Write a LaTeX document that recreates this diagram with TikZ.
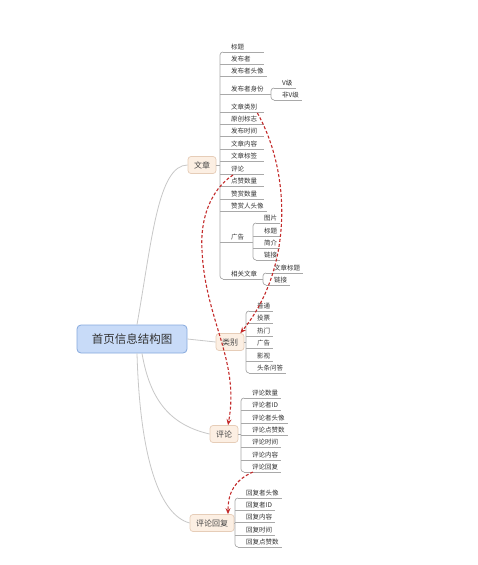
\documentclass[tikz,border=0pt]{standalone}
\usepackage{fontspec}
\setmainfont{Noto Sans CJK SC}
\usetikzlibrary{arrows.meta,calc}
\definecolor{rootfill}{HTML}{C8DBF8}
\definecolor{rootdraw}{HTML}{86A9DD}
\definecolor{brfill}{HTML}{FCEFE3}
\definecolor{brdraw}{HTML}{E6CDB8}
\definecolor{llinec}{HTML}{A9A9A9}
\definecolor{rlinec}{HTML}{C8C8C8}
\definecolor{relred}{HTML}{C42B2B}
\definecolor{txt}{HTML}{333333}
\newlength\lfw
\newcommand\mw[2]{\settowidth\lfw{#2}\ifdim\lfw<#1\relax\makebox[#1][l]{#2}\else#2\fi}
% leaf with underline starting at vertical line
\newcommand\leaf[5][0pt]{\node[leafnode] (#2) at (#3+11,#4-3) {\mw{#1}{#5}};
  \draw[lline] (#3,#4) -- ([xshift=3pt,yshift=-3pt]#2.base east);}
% end leaf (first/last of a group): underline starts after rounded corner
\newcommand\leafe[5][0pt]{\node[leafnode] (#2) at (#3+11,#4-3) {\mw{#1}{#5}};
  \draw[lline] (#3+3,#4) -- ([xshift=3pt,yshift=-3pt]#2.base east);}
\begin{document}
\begin{tikzpicture}[x=1pt,y=-1pt,
  rootbox/.style={draw=rootdraw,fill=rootfill,line width=0.8pt,rounded corners=4pt,
    minimum width=110pt,minimum height=28pt,text=txt,font=\fontsize{11.5}{13}\selectfont},
  brbox/.style={draw=brdraw,fill=brfill,line width=0.7pt,rounded corners=3pt,
    inner xsep=6pt,minimum height=17pt,text=txt!90,font=\fontsize{8}{9.5}\selectfont},
  leafnode/.style={anchor=base west,inner sep=0pt,text=txt,font=\fontsize{6.5}{7}\selectfont},
  lline/.style={draw=llinec,line width=0.7pt},
  rline/.style={draw=rlinec,line width=0.8pt},
  rel/.style={draw=relred,line width=1.1pt,dash pattern=on 3pt off 2pt,
    -{Stealth[length=6pt,width=5pt]}}]
\useasboundingbox[fill=white] (0,0) rectangle (477,565);

% main nodes
\node[rootbox] (root) at (132,339) {首页信息结构图};
\node[brbox] (wz) at (202,165) {文章};
\node[brbox] (lb) at (230,342) {类别};
\node[brbox] (pl) at (224,434) {评论};
\node[brbox] (hf) at (212,523) {评论回复};

% root connectors
\draw[rline] ([xshift=5pt]root.north) .. controls (152,240) and (158,165) .. (wz.west);
\draw[rline] (root.east) -- (lb.west);
\draw[rline] ([xshift=10pt]root.south) .. controls (150,400) and (170,425) .. (pl.west);
\draw[rline] ([xshift=5pt]root.south) .. controls (140,460) and (160,515) .. (hf.west);

% vertical line positions
\coordinate (vA) at (220,0);
\coordinate (vB) at (246,0);
\coordinate (vC) at (241,0);
\coordinate (vD) at (235,0);
\draw[lline] (wz.east) -- (wz.east -| vA);
\draw[lline] (lb.east) -- (lb.east -| vB);
\draw[lline] (pl.east) -- (pl.east -| vC);
\draw[lline] (hf.east) -- (hf.east -| vD);

% ---- 文章 group
\draw[lline,rounded corners=3pt] (223,52) -- (220,52) -- (220,279) -- (223,279);
\leafe[30pt]{a1}{220}{52}{标题}
\leaf[30pt]{a2}{220}{64}{发布者}
\leaf[30pt]{a3}{220}{76}{发布者头像}
\node[leafnode] (a4) at (231,91) {发布者身份};
\draw[lline] (220,94) -- (271,94);
\leaf[30pt]{a5}{220}{112}{文章类别}
\leaf[30pt]{a6}{220}{124}{原创标志}
\leaf[30pt]{a7}{220}{136}{发布时间}
\leaf[30pt]{a8}{220}{149}{文章内容}
\leaf[30pt]{a9}{220}{161}{文章标签}
\leaf[30pt]{a10}{220}{174}{评论}
\leaf[30pt]{a11}{220}{186}{点赞数量}
\leaf[30pt]{a12}{220}{199}{赞赏数量}
\leaf[30pt]{a13}{220}{211}{赞赏人头像}
\node[leafnode] (a14) at (231,239) {广告};
\draw[lline] (220,242) -- (253,242);
\node[leafnode] (a15) at (231,276) {相关文章};
\draw[lline] (223,279) -- (263,279);

% 发布者身份 children
\draw[lline,rounded corners=3pt] (274,88) -- (271,88) -- (271,100) -- (274,100);
\leafe{b1}{271}{88}{V级}
\leafe{b2}{271}{100}{非V级}
% 广告 children
\draw[lline,rounded corners=3pt] (256,223) -- (253,223) -- (253,260) -- (256,260);
\leafe{c1}{253}{223}{图片}
\leaf{c2}{253}{236}{标题}
\leaf{c3}{253}{248}{简介}
\leafe{c4}{253}{260}{链接}
% 相关文章 children
\draw[lline,rounded corners=3pt] (266,273) -- (263,273) -- (263,285) -- (266,285);
\leafe{d1}{263}{273}{文章标题}
\leafe{d2}{263}{285}{链接}

% ---- 类别 group
\draw[lline,rounded corners=3pt] (249,311) -- (246,311) -- (246,373) -- (249,373);
\leafe{f1}{246}{311}{普通}
\leaf{f2}{246}{323}{投票}
\leaf{f3}{246}{336}{热门}
\leaf{f4}{246}{348}{广告}
\leaf{f5}{246}{361}{影视}
\leafe{f6}{246}{373}{头条问答}

% ---- 评论 group
\draw[lline,rounded corners=3pt] (244,398) -- (241,398) -- (241,472) -- (244,472);
\leafe{e1}{241}{398}{评论数量}
\leaf{e2}{241}{410}{评论者ID}
\leaf{e3}{241}{423}{评论者头像}
\leaf{e4}{241}{435}{评论点赞数}
\leaf{e5}{241}{447}{评论时间}
\leaf{e6}{241}{460}{评论内容}
\leafe{e7}{241}{472}{评论回复}

% ---- 评论回复 group
\draw[lline,rounded corners=3pt] (238,498) -- (235,498) -- (235,547) -- (238,547);
\leafe{g1}{235}{498}{回复者头像}
\leaf{g2}{235}{510}{回复者ID}
\leaf{g3}{235}{522}{回复内容}
\leaf{g4}{235}{535}{回复时间}
\leafe{g5}{235}{547}{回复点赞数}

% ---- relationship arrows
\coordinate (via) at (202,250);
\draw[rel] ($(a5.base east)+(-4,4)$) .. controls (292,175) and (292,270) .. ($(lb.north east)+(-4,0)$);
\draw[rel] ($(a10.base west)+(2,4)$) .. controls (210,190) and (200,220) .. (via)
  .. controls (205,320) and (240,360) .. ($(pl.north)+(4,0)$);
\draw[rel] ($(e7.base west)+(1,3)$) .. controls (235,480) and (228,492) .. ($(hf.north)+(16,0)$);
\end{tikzpicture}
\end{document}
